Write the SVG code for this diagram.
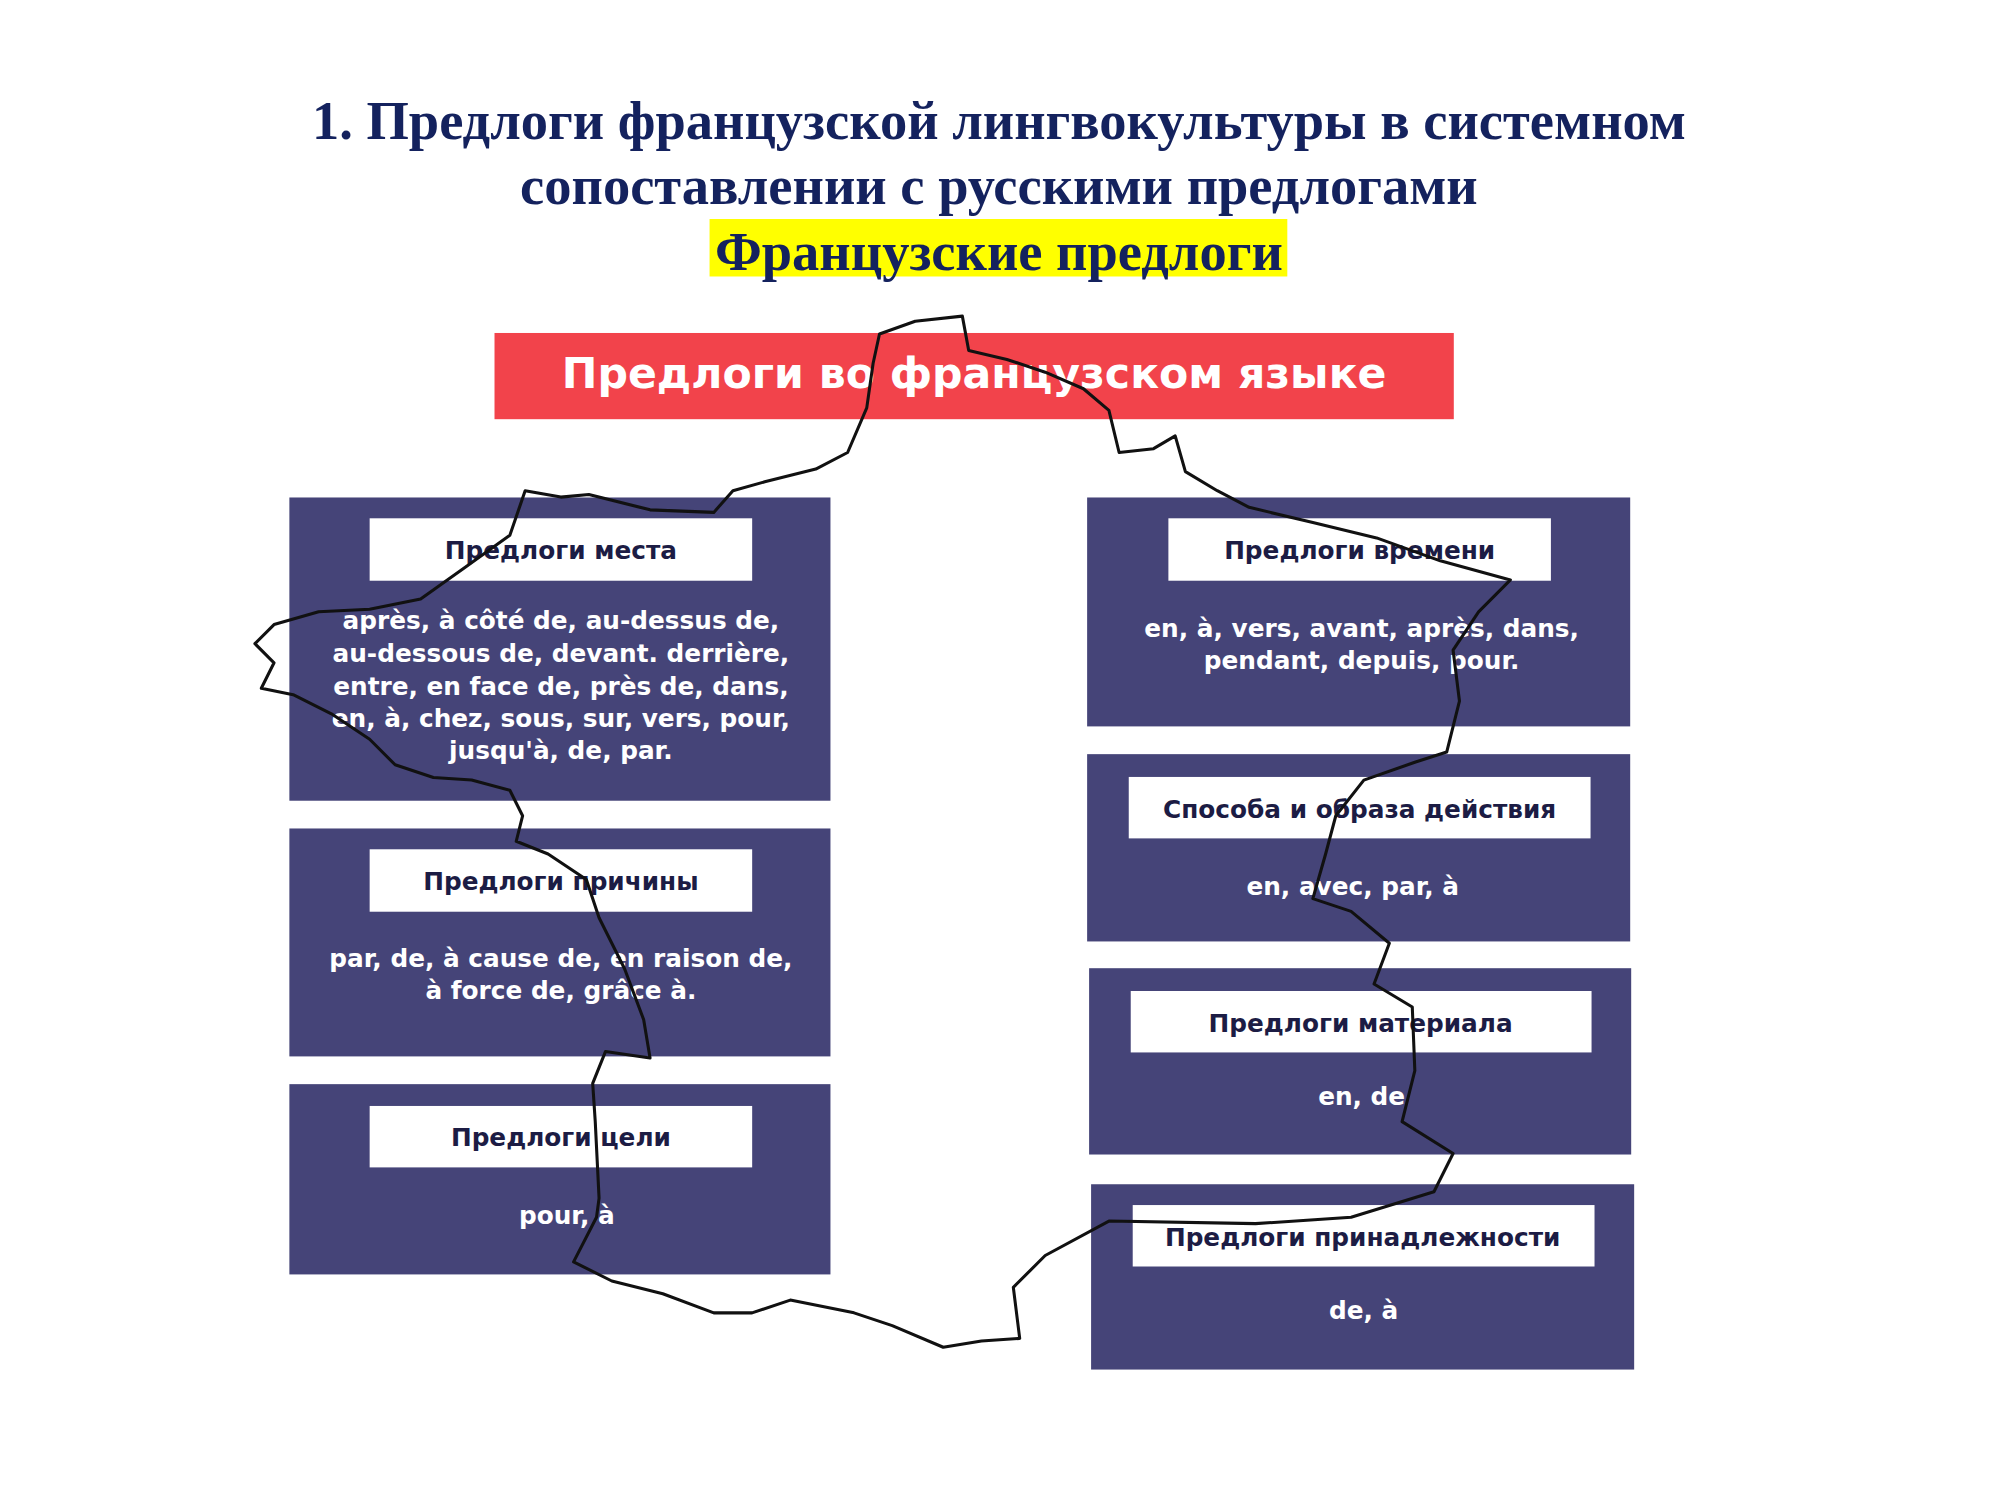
<svg xmlns="http://www.w3.org/2000/svg" width="2000" height="1500" viewBox="0 0 2000 1500">
<style>
.t{font-family:"Liberation Serif",serif;font-weight:bold;font-size:55px;fill:#14225e;text-anchor:middle}
.box{fill:#454478}
.lab{fill:#fff}
.lt{font-family:"DejaVu Sans",sans-serif;font-weight:bold;font-size:25px;fill:#1c1c44;text-anchor:middle}
.bt{font-family:"DejaVu Sans",sans-serif;font-weight:bold;font-size:25px;fill:#fff;text-anchor:middle}
</style>
<rect width="2000" height="1500" fill="#fff"/>
<g transform="scale(0.991)">
<text class="t" x="1008" y="140">1. Предлоги французской лингвокультуры в системном</text>
<text class="t" x="1008" y="206">сопоставлении с русскими предлогами</text>
<rect x="716" y="221" width="583" height="58" fill="#ffff00"/>
<text class="t" x="1008" y="272">Французские предлоги</text>
<g id="header"><rect x="499" y="336" width="968" height="87" fill="#f2434b"/>
<text x="983" y="392" font-family="'DejaVu Sans',sans-serif" font-weight="bold" font-size="43" fill="#fff" text-anchor="middle">Предлоги во французском языке</text></g>
<g id="place"><rect class="box" x="292" y="502" width="546" height="306"/><rect class="lab" x="373" y="523" width="386" height="63"/>
<text class="lt" x="566" y="564">Предлоги места</text>
<text class="bt" x="566" y="635">après, à côté de, au-dessus de,</text>
<text class="bt" x="566" y="668">au-dessous de, devant. derrière,</text>
<text class="bt" x="566" y="701">entre, en face de, près de, dans,</text>
<text class="bt" x="566" y="734">en, à, chez, sous, sur, vers, pour,</text>
<text class="bt" x="566" y="766">jusqu'à, de, par.</text></g>
<g id="cause"><rect class="box" x="292" y="836" width="546" height="230"/><rect class="lab" x="373" y="857" width="386" height="63"/>
<text class="lt" x="566" y="898">Предлоги причины</text>
<text class="bt" x="566" y="976">par, de, à cause de, en raison de,</text>
<text class="bt" x="566" y="1008">à force de, grâce à.</text></g>
<g id="goal"><rect class="box" x="292" y="1094" width="546" height="192"/><rect class="lab" x="373" y="1116" width="386" height="62"/>
<text class="lt" x="566" y="1156">Предлоги цели</text>
<text class="bt" x="572" y="1235">pour, à</text></g>
<g id="time"><rect class="box" x="1097" y="502" width="548" height="231"/><rect class="lab" x="1179" y="523" width="386" height="63"/>
<text class="lt" x="1372" y="564">Предлоги времени</text>
<text class="bt" x="1374" y="643">en, à, vers, avant, après, dans,</text>
<text class="bt" x="1374" y="675">pendant, depuis, pour.</text></g>
<g id="manner"><rect class="box" x="1097" y="761" width="548" height="189"/><rect class="lab" x="1139" y="784" width="466" height="62"/>
<text class="lt" x="1372" y="825">Способа и образа действия</text>
<text class="bt" x="1365" y="903">en, avec, par, à</text></g>
<g id="material"><rect class="box" x="1099" y="977" width="547" height="188"/><rect class="lab" x="1141" y="1000" width="465" height="62"/>
<text class="lt" x="1373" y="1041">Предлоги материала</text>
<text class="bt" x="1374" y="1115">en, de</text></g>
<g id="possession"><rect class="box" x="1101" y="1195" width="548" height="187"/><rect class="lab" x="1143" y="1216" width="466" height="62"/>
<text class="lt" x="1375" y="1257">Предлоги принадлежности</text>
<text class="bt" x="1376" y="1331">de, à</text></g>
<g id="connectors"><path transform="scale(1.2862)" fill="none" stroke="#111" stroke-width="2.4" stroke-linejoin="round" d="M690,262 L718,252 L755,248 L760,275 L790,282 L820,292 L850,305 L870,322 L878,355 L905,352 L922,342 L930,370 L955,385 L980,398 L1030,410 L1080,422 L1130,440 L1185,455 L1160,480 L1140,510 L1145,550 L1135,590 L1110,598 L1070,612 L1048,640 L1040,670 L1030,705 L1060,715 L1090,740 L1078,772 L1108,790 L1110,840 L1100,880 L1140,905 L1125,935 L1060,955 L985,960 L870,958 L820,985 L795,1010 L800,1050 L770,1052 L740,1057 L700,1040 L670,1030 L620,1020 L590,1030 L560,1030 L520,1015 L480,1005 L450,990 L468,955 L470,940 L467,880 L465,850 L475,825 L510,830 L505,800 L490,760 L470,720 L460,690 L430,670 L405,660 L410,640 L400,620 L370,612 L340,610 L310,600 L290,580 L260,560 L230,545 L205,540 L215,520 L200,505 L215,490 L250,480 L290,478 L330,470 L365,445 L400,420 L412,385 L440,390 L462,388 L510,400 L560,402 L575,385 L600,378 L640,368 L665,355 L680,320 L685,285 Z"/></g>
</g>
</svg>
